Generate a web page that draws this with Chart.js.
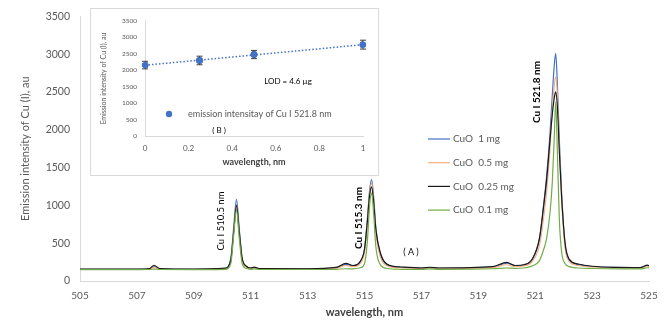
<!DOCTYPE html>
<html>
<head>
<meta charset="utf-8">
<script src="https://cdn.jsdelivr.net/npm/chart.js@4.4.0/dist/chart.umd.min.js"></script>
<style>
  html, body { margin: 0; padding: 0; background: #fff; }
  #wrap { position: relative; width: 671px; height: 322px; }
  #main { position: absolute; left: 0; top: 0; }
  #insetBox { position: absolute; left: 90px; top: 8px; width: 289px; height: 168px;
              box-sizing: border-box; border: 1px solid #d9d9d9; background: #fff; }
  #inset { position: absolute; left: 0; top: 0; }
</style>
</head>
<body>
<div id="wrap">
  <canvas id="main" width="671" height="322"></canvas>
  <div id="insetBox"><canvas id="inset" width="287" height="166"></canvas></div>
</div>
<script>
// main spectrum (A)
const wavelengths = [505, 507, 507.45, 507.6, 507.8, 509, 510.1, 510.3, 510.4, 510.5, 510.6, 510.7, 510.85, 511.0,
  511.12, 511.3, 513, 514.0, 514.35, 514.6, 514.85, 515.0, 515.1, 515.18, 515.25, 515.32, 515.4, 515.55, 515.8,
  516.3, 517.0, 517.3, 517.6, 519.5, 520.0, 520.3, 520.6, 520.9, 521.15, 521.3, 521.4, 521.52, 521.6, 521.67,
  521.72, 521.78, 521.85, 521.93, 522.05, 522.2, 522.5, 523.0, 524.0, 524.7, 524.95, 525];
const cuo1mg = [155, 155, 160, 190, 160, 155, 165, 300, 700, 1080, 680, 300, 190, 168,
  178, 163, 160, 175, 220, 200, 255, 420, 820, 1200, 1340, 1120, 700, 370, 215,
  180, 170, 178, 170, 185, 235, 200, 212, 290, 570, 1020, 1380, 1950, 2450, 2850,
  3010, 2600, 1850, 1150, 480, 275, 220, 192, 178, 176, 205, 198];
const cuo05mg = [152, 152, 158, 180, 158, 152, 160, 270, 650, 1010, 630, 280, 185, 165,
  172, 160, 158, 168, 205, 190, 230, 380, 760, 1150, 1295, 1080, 640, 330, 200,
  175, 165, 172, 166, 178, 215, 192, 200, 260, 470, 850, 1180, 1750, 2250, 2580,
  2700, 2450, 1750, 1050, 440, 255, 205, 185, 172, 170, 195, 190];
const cuo025mg = [158, 158, 165, 208, 165, 158, 170, 280, 640, 1000, 640, 300, 195, 172,
  183, 165, 162, 180, 233, 205, 260, 420, 780, 1130, 1245, 1050, 680, 380, 220,
  185, 172, 182, 172, 190, 245, 205, 215, 290, 560, 1000, 1330, 1860, 2200, 2420,
  2500, 2300, 1700, 1100, 500, 285, 225, 195, 180, 178, 210, 200];
const cuo01mg = [150, 150, 152, 158, 152, 150, 155, 230, 600, 940, 560, 230, 165, 155,
  160, 152, 152, 155, 162, 160, 175, 230, 520, 1000, 1165, 900, 450, 220, 165,
  155, 152, 160, 155, 162, 172, 168, 172, 200, 270, 420, 560, 900, 1300, 1900,
  2370, 1700, 800, 380, 230, 190, 172, 165, 160, 160, 175, 172];
const seriesNames = ['CuO  1 mg', 'CuO  0.5 mg', 'CuO  0.25 mg', 'CuO  0.1 mg'];
const seriesColors = ['#4472c4', '#f4b183', '#1a1a1a', '#70ad47'];
const xTicks = [505, 507, 509, 511, 513, 515, 517, 519, 521, 523, 525];
const yTicks = [0, 500, 1000, 1500, 2000, 2500, 3000, 3500];

// inset (B)
const insetX = [0, 0.25, 0.5, 1];
const insetY = [2160, 2300, 2480, 2780];
const insetErr = [115, 130, 125, 135];
const trendX = [0, 1];
const trendY = [2155, 2779];
const insetXTicks = [0, 0.2, 0.4, 0.6, 0.8, 1];
const insetYTicks = [0, 500, 1000, 1500, 2000, 2500, 3000, 3500];

const FONT = "Lato, 'Liberation Sans', sans-serif";
const GREY = '#595959';

function toPoints(xs, ys) {
    return xs.map((x, i) => ({ x: x, y: ys[i] }));
}

// plain tick text, no thousands separator
const plain = v => String(v);

// text inside the main plot: peak labels, (A) and the legend
const mainLabels = {
    id: 'mainLabels',
    afterDatasetsDraw(chart) {
        const ctx = chart.ctx;
        ctx.save();
        ctx.fillStyle = '#000';
        ctx.textAlign = 'center';
        ctx.textBaseline = 'middle';
        const vert = (text, x, y, font) => {
            ctx.save();
            ctx.translate(x, y);
            ctx.rotate(-Math.PI / 2);
            ctx.font = font;
            ctx.fillText(text, 0, 0);
            ctx.restore();
        };
        vert('Cu I 510.5 nm', 221, 221, '9.5px ' + FONT);
        vert('Cu I 515.3 nm', 359, 218, 'bold 10px ' + FONT);
        vert('Cu I 521.8 nm', 537, 92, 'bold 10px ' + FONT);
        ctx.font = '9px ' + FONT;
        ctx.fillText('( A )', 411, 252);

        // legend
        ctx.textAlign = 'left';
        ctx.font = '10px ' + FONT;
        seriesNames.forEach((name, i) => {
            const y = 139 + i * 23.7;
            ctx.strokeStyle = seriesColors[i];
            ctx.lineWidth = 1.2;
            ctx.beginPath();
            ctx.moveTo(428, y);
            ctx.lineTo(450, y);
            ctx.stroke();
            ctx.fillStyle = GREY;
            ctx.fillText(name, 453, y);
        });
        ctx.restore();
    }
};

// error bars, legend and notes of the inset
const insetExtras = {
    id: 'insetExtras',
    afterDatasetsDraw(chart) {
        const ctx = chart.ctx;
        const xs = chart.scales.x, ys = chart.scales.y;
        ctx.save();
        ctx.strokeStyle = '#404040';
        ctx.lineWidth = 1;
        insetX.forEach((x, i) => {
            const px = xs.getPixelForValue(x);
            const top = ys.getPixelForValue(insetY[i] + insetErr[i]);
            const bot = ys.getPixelForValue(insetY[i] - insetErr[i]);
            ctx.beginPath();
            ctx.moveTo(px, top); ctx.lineTo(px, bot);
            ctx.moveTo(px - 3, top); ctx.lineTo(px + 3, top);
            ctx.moveTo(px - 3, bot); ctx.lineTo(px + 3, bot);
            ctx.stroke();
        });
        // redraw markers over the bars
        ctx.fillStyle = '#4472c4';
        insetX.forEach((x, i) => {
            ctx.beginPath();
            ctx.arc(xs.getPixelForValue(x), ys.getPixelForValue(insetY[i]), 3.2, 0, Math.PI * 2);
            ctx.fill();
        });

        ctx.beginPath();
        ctx.arc(78, 105, 3.2, 0, Math.PI * 2);
        ctx.fill();
        ctx.textBaseline = 'middle';
        ctx.textAlign = 'left';
        ctx.fillStyle = GREY;
        ctx.font = '9px ' + FONT;
        ctx.fillText('emission intensitay of Cu I 521.8 nm', 97, 105);
        ctx.textAlign = 'center';
        ctx.fillStyle = '#000';
        ctx.font = '8px ' + FONT;
        ctx.fillText('( B )', 128, 121);
        ctx.fillText('LOD = 4.6 \u00b5g', 197, 72);
        ctx.restore();
    }
};

const mainChart = new Chart(document.getElementById('main'), {
    type: 'line',
    data: {
        datasets: [
            { label: seriesNames[3], data: toPoints(wavelengths, cuo01mg), borderColor: seriesColors[3], order: 0 },
            { label: seriesNames[2], data: toPoints(wavelengths, cuo025mg), borderColor: seriesColors[2], order: 1 },
            { label: seriesNames[1], data: toPoints(wavelengths, cuo05mg), borderColor: seriesColors[1], order: 2 },
            { label: seriesNames[0], data: toPoints(wavelengths, cuo1mg), borderColor: seriesColors[0], order: 3 }
        ]
    },
    options: {
        responsive: false,
        animation: false,
        layout: { padding: { top: 16, right: 22, left: 0, bottom: 0 } },
        elements: {
            point: { radius: 0 },
            line: { borderWidth: 1.2, cubicInterpolationMode: 'monotone', fill: false }
        },
        plugins: { legend: { display: false }, tooltip: { enabled: false } },
        scales: {
            x: {
                type: 'linear', min: 505, max: 525,
                afterBuildTicks: s => { s.ticks = xTicks.map(v => ({ value: v })); },
                afterFit: s => { s.height = 41; },
                grid: { display: false, drawTicks: false },
                border: { display: true, color: '#d9d9d9' },
                ticks: { padding: 9, color: GREY, font: { family: FONT, size: 10 }, maxRotation: 0, callback: plain },
                title: { display: true, text: 'wavelength, nm', color: '#404040',
                         font: { family: FONT, size: 11, weight: 'bold' }, padding: { top: 0, bottom: 2.5 } }
            },
            y: {
                min: 0, max: 3500,
                afterBuildTicks: s => { s.ticks = yTicks.map(v => ({ value: v })); },
                afterFit: s => { s.width = 80; },
                grid: { display: false, drawTicks: false },
                border: { display: true, color: '#d9d9d9' },
                ticks: { padding: 10, color: GREY, font: { family: FONT, size: 10.5 }, callback: plain },
                title: { display: true, text: 'Emission intensity of Cu (I), au', color: GREY,
                         font: { family: FONT, size: 11 }, padding: { top: 18.4, bottom: 0 } }
            }
        }
    },
    plugins: [mainLabels]
});

const insetChart = new Chart(document.getElementById('inset'), {
    type: 'scatter',
    data: {
        datasets: [
            { label: 'emission intensitay of Cu I 521.8 nm', data: toPoints(insetX, insetY),
              backgroundColor: '#4472c4', borderColor: '#4472c4', pointRadius: 3.2, showLine: false },
            { label: 'trend', data: toPoints(trendX, trendY), showLine: true, pointRadius: 0,
              borderColor: '#4472c4', borderWidth: 1.5, borderDash: [1.5, 2] }
        ]
    },
    options: {
        responsive: false,
        animation: false,
        layout: { padding: { top: 11, right: 15, left: 0, bottom: 0 } },
        plugins: { legend: { display: false }, tooltip: { enabled: false } },
        scales: {
            x: {
                type: 'linear', min: 0, max: 1,
                afterBuildTicks: s => { s.ticks = insetXTicks.map(v => ({ value: v })); },
                afterFit: s => { s.height = 38.7; },
                grid: { display: false, drawTicks: false },
                border: { display: true, color: '#d9d9d9' },
                ticks: { padding: 7, color: GREY, font: { family: FONT, size: 8 }, maxRotation: 0, callback: plain },
                title: { display: true, text: 'wavelength, nm', color: '#404040',
                         font: { family: FONT, size: 9, weight: 'bold' }, padding: { top: 0, bottom: 7.6 } }
            },
            y: {
                min: 0, max: 3500,
                afterBuildTicks: s => { s.ticks = insetYTicks.map(v => ({ value: v })); },
                afterFit: s => { s.width = 54; },
                grid: { display: false, drawTicks: false },
                border: { display: true, color: '#d9d9d9' },
                ticks: { padding: 8, color: GREY, font: { family: FONT, size: 6.5 }, callback: plain },
                title: { display: true, text: 'Emission intensity of Cu (I), au', color: GREY,
                         font: { family: FONT, size: 7 }, padding: { top: 8.8, bottom: 0 } }
            }
        }
    },
    plugins: [insetExtras]
});
</script>
</body>
</html>
